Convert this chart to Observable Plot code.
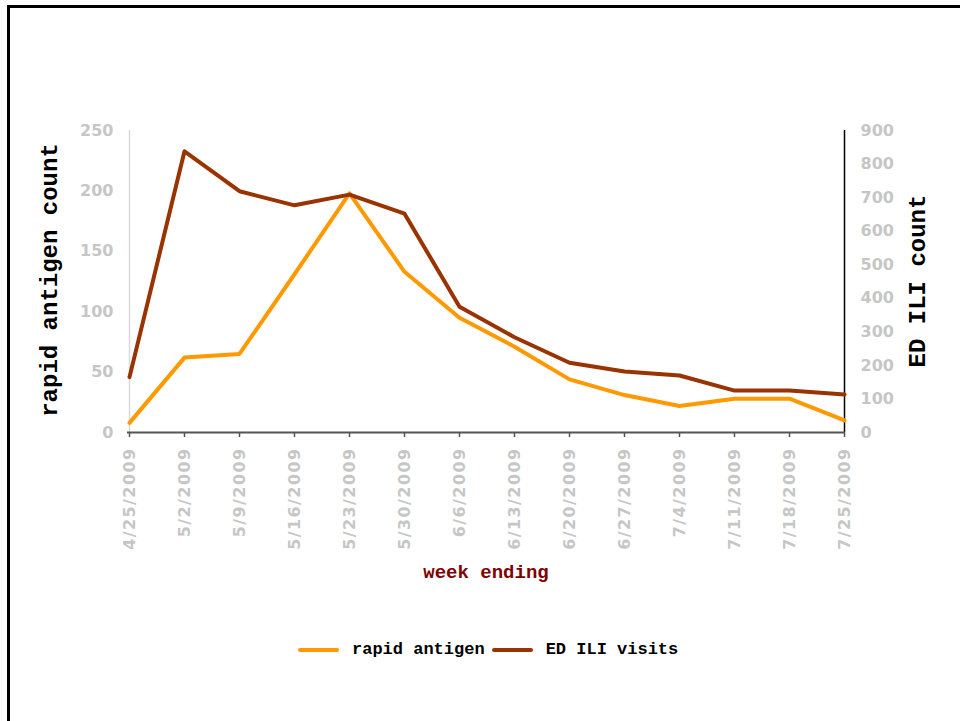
<!DOCTYPE html>
<html>
<head>
<meta charset="utf-8">
<script src="https://cdn.jsdelivr.net/npm/d3@7"></script>
<script src="https://cdn.jsdelivr.net/npm/@observablehq/plot@0.6"></script>
<style>
  html, body { margin: 0; padding: 0; background: #fff; overflow: hidden; }
  #frame { position: absolute; left: 7px; top: 5px; width: 1000px; height: 800px; border: 3px solid #000; box-sizing: border-box; }
  #chart { position: absolute; left: 0; top: 0; }
  #chart g[aria-label="x-axis tick label"] text { letter-spacing: 1.4px; }
  .lbl { position: absolute; font-family: "Liberation Mono", "Courier New", monospace; font-weight: bold; white-space: nowrap; }
  .rot { transform: translate(-50%, -50%) rotate(-90deg); }
  #ylab { left: 50px; top: 280px; font-size: 24px; color: #000; }
  #y2lab { left: 918px; top: 281px; font-size: 24px; color: #000; }
  #xlab { left: 486px; top: 573px; transform: translate(-50%, -50%); font-size: 19px; color: #800000; }
  #legend { position: absolute; left: 298px; top: 640px; display: flex; align-items: center; font-family: "Liberation Mono", "Courier New", monospace; font-weight: bold; font-size: 17px; }
  .sw { display: inline-block; width: 41px; height: 4px; border-radius: 2px; margin-right: 13px; }
  .item { display: flex; align-items: center; margin-right: 7px; }
</style>
</head>
<body>
<div id="frame"></div>
<div id="chart"></div>
<div class="lbl rot" id="ylab">rapid antigen count</div>
<div class="lbl rot" id="y2lab">ED ILI count</div>
<div class="lbl" id="xlab">week ending</div>
<div id="legend"></div>
<script>
const weeks = ["4/25/2009","5/2/2009","5/9/2009","5/16/2009","5/23/2009","5/30/2009","6/6/2009","6/13/2009","6/20/2009","6/27/2009","7/4/2009","7/11/2009","7/18/2009","7/25/2009"];
const rapidAntigen = [8, 62, 65, 131, 198, 133, 95, 71, 44, 31, 22, 28, 28, 10];
const edIliVisits = [165, 838, 719, 677, 709, 652, 375, 284, 208, 182, 170, 125, 125, 113];
const leftTicks = [0, 50, 100, 150, 200, 250];
const rightTicks = [0, 100, 200, 300, 400, 500, 600, 700, 800, 900];
const leftMax = 250, rightMax = 900;
const seriesNames = ["rapid antigen", "ED ILI visits"];
const seriesColors = ["#FF9900", "#993300"];

const k = leftMax / rightMax;
const rows = [];
weeks.forEach((w, i) => {
  rows.push({week: w, series: seriesNames[0], y: rapidAntigen[i]});
  rows.push({week: w, series: seriesNames[1], y: edIliVisits[i] * k});
});

const tickFont = "DejaVu Sans, sans-serif";
const tickColor = "#c6c6c6";
const plot = Plot.plot({
  width: 960,
  height: 721,
  marginLeft: 127,
  marginRight: 115,
  marginTop: 130,
  marginBottom: 289,
  style: {fontFamily: tickFont, fontSize: "16px", background: "transparent", overflow: "visible"},
  x: {type: "point", domain: weeks, padding: 0},
  y: {domain: [0, leftMax]},
  color: {domain: seriesNames, range: seriesColors},
  marks: [
    Plot.ruleX([weeks[0]], {stroke: "#d9d9d9", strokeWidth: 1.5}),
    Plot.ruleX([weeks[weeks.length - 1]], {stroke: "#000", strokeWidth: 1.5}),
    Plot.axisY(leftTicks, {anchor: "left", tickSize: 0, tickPadding: 14, label: null, fill: tickColor, fontWeight: "bold"}),
    Plot.axisY(rightTicks.map(t => t * k), {anchor: "right", tickSize: 0, tickPadding: 15, label: null, tickFormat: d => String(Math.round(d / k)), fill: tickColor, fontWeight: "bold"}),
    Plot.axisX({tickSize: 5, tickPadding: 10, tickRotate: -90, label: null, stroke: "#555", fill: tickColor, fontWeight: "bold", strokeWidth: 1.5}),
    Plot.lineY(rows, {x: "week", y: "y", z: "series", stroke: "series", strokeWidth: 4}),
    Plot.ruleY([0], {stroke: "#555", strokeWidth: 2})
  ]
});
document.getElementById("chart").appendChild(plot);

const legend = document.getElementById("legend");
seriesNames.forEach((n, i) => {
  const it = document.createElement("span");
  it.className = "item";
  const sw = document.createElement("span");
  sw.className = "sw";
  sw.style.background = seriesColors[i];
  it.appendChild(sw);
  it.appendChild(document.createTextNode(n));
  legend.appendChild(it);
});
</script>
</body>
</html>
